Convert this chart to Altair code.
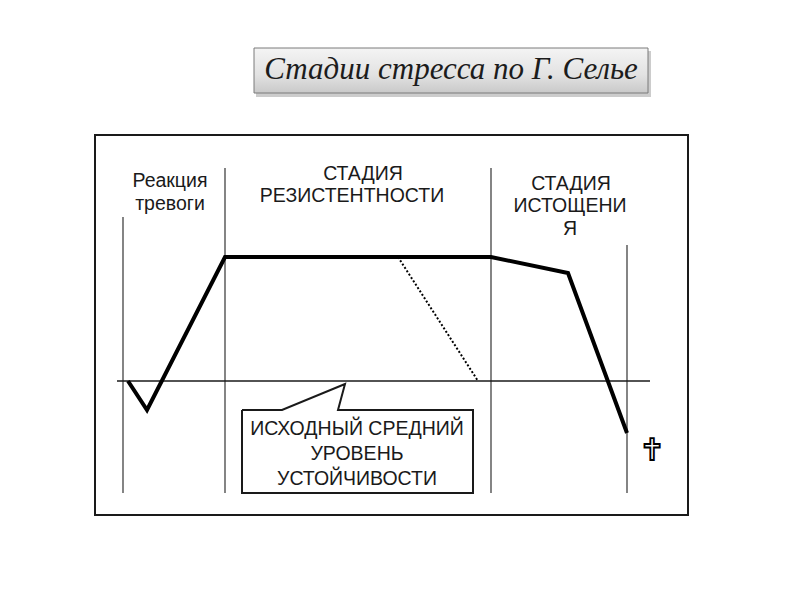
import altair as alt
import pandas as pd

# ---- data (time units on x, resistance level on y; 0 = average baseline level) ----
curve_t = [5, 24, 102, 368, 445, 504]
curve_level = [0, -29, 124, 124, 108, -52]

dotted_t = [275, 355]
dotted_level = [124, 0]

stage_t = [0, 102, 368, 504]
stage_top = [164, 213, 213, 136]
stage_bottom = [-112, -112, -112, -112]

baseline_t = [-6, 527]

frame_t = [-28, 565]
frame_level = [246, -134]

callout_t = [119, 159, 222, 215, 350, 350, 119, 119]
callout_level = [-29, -29, -3, -29, -29, -112, -112, -29]

stage_labels = ["Реакция", "тревоги", "СТАДИЯ", "РЕЗИСТЕНТНОСТИ", "СТАДИЯ", "ИСТОЩЕНИ", "Я",
                "ИСХОДНЫЙ СРЕДНИЙ", "УРОВЕНЬ", "УСТОЙЧИВОСТИ"]
label_t = [47, 47, 240, 229, 448, 447, 447, 234, 234, 234]
label_level = [194, 171, 201, 179, 191, 169, 146, -54, -79, -104]

title_text = "Стадии стресса по Г. Селье"
title_box_t = [131, 525]
title_box_level = [333, 288]
title_t = 328
title_level = 302

cross_t = 529
cross_level = -70

# ---- scales ----
XS = alt.Scale(domain=[-115, 669], nice=False, zero=False)
YS = alt.Scale(domain=[-211, 373], nice=False, zero=False)


def X(f):
    return alt.X(f, type="quantitative", scale=XS, axis=None)


def Y(f):
    return alt.Y(f, type="quantitative", scale=YS, axis=None)


ink = "#1a1a1a"

frame = alt.Chart(pd.DataFrame({"x": [frame_t[0]], "x2": [frame_t[1]],
                                "y": [frame_level[0]], "y2": [frame_level[1]]})).mark_rect(
    fillOpacity=0, stroke=ink, strokeWidth=2).encode(x=X("x"), x2="x2", y=Y("y"), y2="y2")

stages = alt.Chart(pd.DataFrame({"t": stage_t, "top": stage_top, "bot": stage_bottom})).mark_rule(
    color="#333", strokeWidth=1.2).encode(x=X("t"), y=Y("top"), y2="bot")

base = alt.Chart(pd.DataFrame({"t": [baseline_t[0]], "t2": [baseline_t[1]], "v": [0]})).mark_rule(
    color=ink, strokeWidth=1.6).encode(x=X("t"), x2="t2", y=Y("v"))

curve = alt.Chart(pd.DataFrame({"t": curve_t, "v": curve_level, "i": range(len(curve_t))})).mark_line(
    color="#000", strokeWidth=4, strokeJoin="miter", strokeCap="butt").encode(
    x=X("t"), y=Y("v"), order="i:Q")

dotted = alt.Chart(pd.DataFrame({"t": dotted_t, "v": dotted_level})).mark_line(
    color="#000", strokeWidth=2, strokeDash=[2, 2]).encode(x=X("t"), y=Y("v"))

callout = alt.Chart(pd.DataFrame({"t": callout_t, "v": callout_level,
                                  "i": range(len(callout_t))})).mark_line(
    color=ink, strokeWidth=2, strokeJoin="miter").encode(x=X("t"), y=Y("v"), order="i:Q")

labels = alt.Chart(pd.DataFrame({"t": label_t, "v": label_level, "s": stage_labels})).mark_text(
    font="Liberation Sans", fontSize=19.5, align="center", baseline="alphabetic", color=ink).encode(
    x=X("t"), y=Y("v"), text="s:N")

cross = alt.Chart(pd.DataFrame({"t": [cross_t], "v": [cross_level], "s": ["✝"]})).mark_text(
    font="DejaVu Sans", fontSize=30, align="center", baseline="middle", fill="white",
    stroke="#000", strokeWidth=1.8).encode(x=X("t"), y=Y("v"), text="s:N")

shadow = alt.Chart(pd.DataFrame({"x": [title_box_t[0] + 2], "x2": [title_box_t[1] + 3],
                                 "y": [title_box_level[0] - 3], "y2": [title_box_level[1] - 4]})).mark_rect(
    color="#9a9a9a", opacity=0.5).encode(x=X("x"), x2="x2", y=Y("y"), y2="y2")

grad = alt.Gradient(gradient="linear",
                    stops=[alt.GradientStop(color="#f4f4f4", offset=0),
                           alt.GradientStop(color="#e2e2e2", offset=0.6),
                           alt.GradientStop(color="#c9c9c9", offset=1)],
                    x1=0, x2=0, y1=0, y2=1)
title_box = alt.Chart(pd.DataFrame({"x": [title_box_t[0]], "x2": [title_box_t[1]],
                                    "y": [title_box_level[0]], "y2": [title_box_level[1]]})).mark_rect(
    fill=grad, stroke="#7a7a7a", strokeWidth=1).encode(x=X("x"), x2="x2", y=Y("y"), y2="y2")

title = alt.Chart(pd.DataFrame({"t": [title_t], "v": [title_level], "s": [title_text]})).mark_text(
    font="Liberation Serif", fontStyle="italic", fontSize=31, align="center", baseline="alphabetic",
    color="#1c1c1c").encode(x=X("t"), y=Y("v"), text="s:N")

chart = alt.layer(frame, stages, base, dotted, curve, callout, labels, cross, shadow, title_box, title).properties(
    width=784, height=584, padding=0, background="white").configure_view(stroke=None)

chart.save("out.html", embed_options={"renderer": "svg", "actions": False})
